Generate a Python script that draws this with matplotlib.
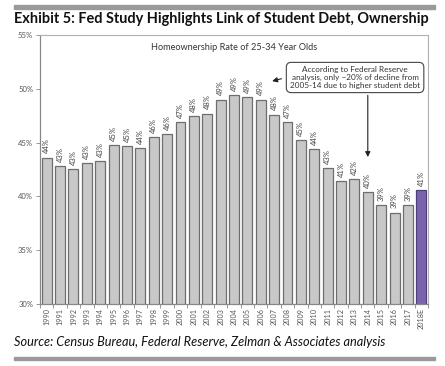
import matplotlib
matplotlib.use("Agg")
import matplotlib.pyplot as plt
import numpy as np

years = ["1990", "1991", "1992", "1993", "1994", "1995", "1996", "1997", "1998", "1999",
         "2000", "2001", "2002", "2003", "2004", "2005", "2006", "2007", "2008", "2009",
         "2010", "2011", "2012", "2013", "2014", "2015", "2016", "2017", "2018E"]
values = [43.6, 42.8, 42.5, 43.1, 43.3, 44.8, 44.7, 44.5, 45.5, 45.8,
          46.9, 47.5, 47.7, 49.0, 49.4, 49.2, 49.0, 47.6, 46.9, 45.2,
          44.4, 42.6, 41.45, 41.6, 40.4, 39.2, 38.5, 39.2, 40.6]
labels = ["44%", "43%", "43%", "43%", "43%", "45%", "45%", "44%", "46%", "46%",
          "47%", "48%", "48%", "49%", "49%", "49%", "49%", "48%", "47%", "45%",
          "44%", "43%", "41%", "42%", "40%", "39%", "39%", "39%", "41%"]
yticks = [30, 35, 40, 45, 50, 55]

W, H = 445, 366
fig = plt.figure(figsize=(W / 100, H / 100), dpi=100)
plt.rcParams['font.family'] = ['Lato', 'DejaVu Sans']

# decorative gray bars
fig.add_artist(plt.Rectangle((14 / W, 1 - 8.5 / H), 421 / W, 3.5 / H, color="#9a9a9a",
                             transform=fig.transFigure))
fig.add_artist(plt.Rectangle((14 / W, 1 - 360 / H), 421 / W, 3.5 / H, color="#9a9a9a",
                             transform=fig.transFigure))

fig.text(14 / W, 1 - 19 / H, "Exhibit 5: Fed Study Highlights Link of Student Debt, Ownership",
         fontsize=10.45, fontweight="bold", color="#111111", va="center", ha="left")
fig.text(14 / W, 1 - 342 / H, "Source: Census Bureau, Federal Reserve, Zelman & Associates analysis",
         fontsize=9.2, fontstyle="italic", color="#111111", va="center", ha="left")

ax = fig.add_axes([40 / W, 1 - 304 / H, 388 / W, 269 / H])
x = np.arange(len(years))
colors = ["#c8c8c8"] * (len(years) - 1) + ["#7a64ae"]
edges = ["#6e6e6e"] * (len(years) - 1) + ["#4e3f80"]
ax.bar(x, values, width=0.74, color=colors, edgecolor=edges, linewidth=0.9, zorder=2)
for xi, v, lab in zip(x, values, labels):
    ax.annotate(lab, (xi, v), xytext=(0, 3), textcoords="offset points",
                rotation=90, ha="center", va="bottom", fontsize=5.5, color="#444444")

ax.set_xlim(-0.45, len(years) - 0.55)
ax.set_ylim(30, 55)
ax.set_yticks(yticks)
ax.set_yticklabels([f"{t}%" for t in yticks], fontsize=5.5, color="#555555")
ax.set_xticks(x)
ax.set_xticklabels(years, rotation=90, fontsize=5.2, color="#555555")
ax.tick_params(axis="x", length=0, pad=3)
ax.set_xticks(np.arange(-0.5, len(years), 1.0), minor=True)
ax.tick_params(axis="x", which="minor", length=3, color="#888888", width=0.6)
ax.tick_params(axis="y", length=3, color="#888888", width=0.6, pad=2)
for s in ["top", "right"]:
    ax.spines[s].set_color("#b0b0b0")
    ax.spines[s].set_linewidth(0.8)
for s in ["left", "bottom"]:
    ax.spines[s].set_color("#888888")
    ax.spines[s].set_linewidth(0.9)

ax.text(0.5, 0.955, "Homeownership Rate of 25-34 Year Olds", transform=ax.transAxes,
        ha="center", va="center", fontsize=6.6, color="#333333")

ax.text(23.05, 51.05, "According to Federal Reserve\nanalysis, only ~20% of decline from\n2005-14 due to higher student debt",
        ha="center", va="center", fontsize=5.9, color="#333333", linespacing=1.15,
        bbox=dict(boxstyle="round,pad=0.45,rounding_size=0.6", fc="white", ec="#444444", lw=0.8),
        zorder=5)
ax.annotate("", xy=(16.65, 50.65), xytext=(17.75, 51.0),
            arrowprops=dict(arrowstyle="-|>,head_length=0.3,head_width=0.15", color="#222222", lw=0.8))
ax.annotate("", xy=(24.0, 43.4), xytext=(24.0, 49.65),
            arrowprops=dict(arrowstyle="-|>,head_length=0.3,head_width=0.15", color="#222222", lw=0.8))

fig.savefig("out.png", dpi=100)
